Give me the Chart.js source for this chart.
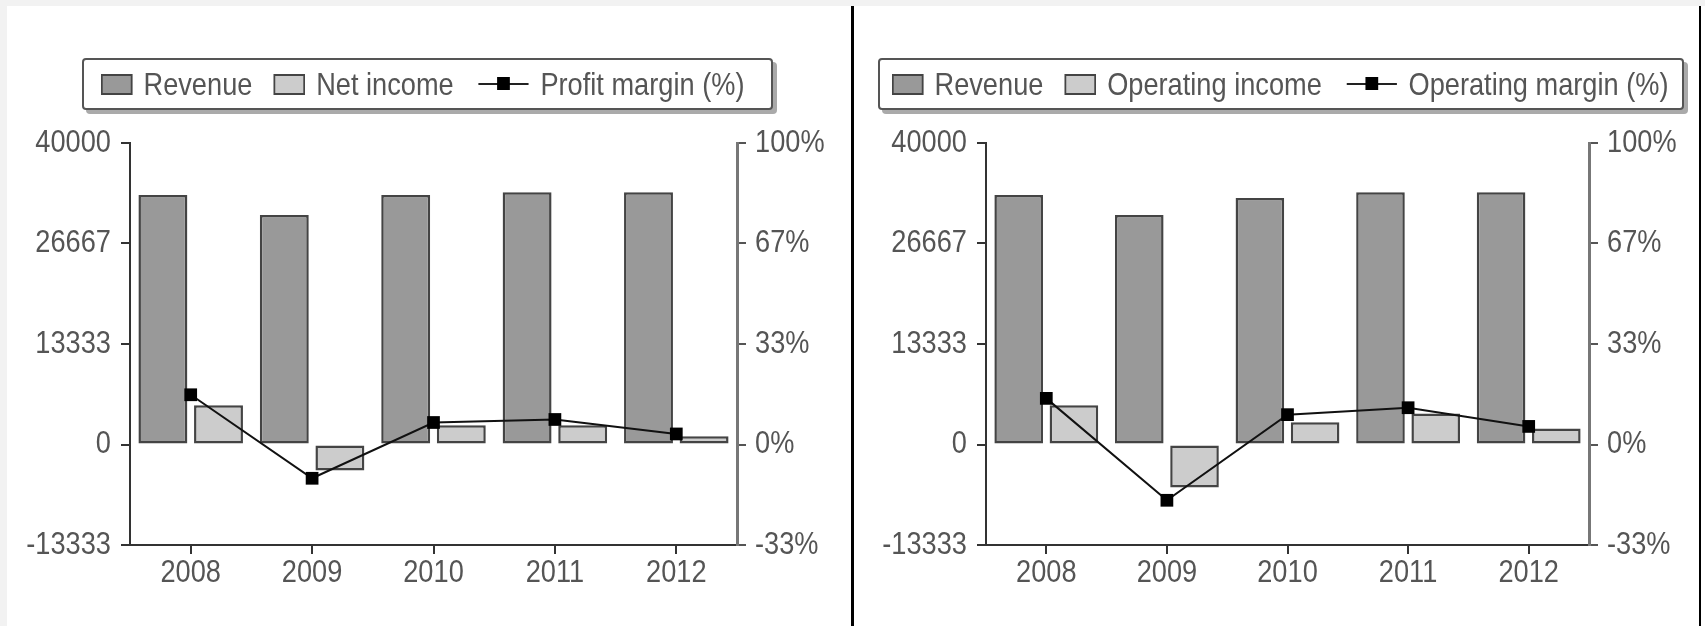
<!DOCTYPE html>
<html>
<head>
<meta charset="utf-8">
<script src="https://cdn.jsdelivr.net/npm/chart.js@4.4.1/dist/chart.umd.min.js"></script>
<style>
    html, body { margin: 0; padding: 0; }
    body { width: 1705px; height: 626px; background: #f2f2f2; position: relative; overflow: hidden;
           font-family: 'Liberation Sans', Arial, sans-serif; }
    #panel { position: absolute; left: 7px; top: 6px; width: 1698px; height: 620px; background: #fff; }
    .divider { position: absolute; top: 6px; height: 620px; background: #000; }
    canvas { position: absolute; top: 6px; }
    .legend { position: absolute; top: 58px; height: 48px; border: 2px solid #555; border-radius: 4px;
              background: #fff; box-shadow: 4px 4px 0 #aaa; color: #555; font-size: 32px;
              box-sizing: content-box; white-space: nowrap; overflow: hidden; }
    .legend .inner { position: absolute; top: 0; height: 48px; display: flex; align-items: center;
                     transform: scaleX(0.85); transform-origin: 0 50%; }
    .legend .item { display: flex; align-items: center; margin-right: 25px; }
    .legend .swatch { width: 33px; height: 17px; border: 2px solid #444; margin-right: 13px; }
    .legend .line { position: relative; width: 59px; height: 2px; background: #222; margin-right: 14px; margin-left: 4px; }
    .legend .line::after { content: ''; position: absolute; left: 22px; top: -6px; width: 15px; height: 13px; background: #000; }
</style>
</head>
<body>
<div id="panel"></div>
<div class="divider" style="left:851px;width:3px;"></div>
<div class="divider" style="left:1699px;width:2px;"></div>

<canvas id="chartLeft" width="844" height="620" style="left:7px;"></canvas>
<canvas id="chartRight" width="845" height="620" style="left:854px;"></canvas>
<div id="legendLeft" class="legend" style="left:82px;width:687px;"></div>
<div id="legendRight" class="legend" style="left:878px;width:802px;"></div>

<script>
const years = ['2008', '2009', '2010', '2011', '2012'];

const revenueLeft = [33100, 30450, 33100, 33450, 33450];
const netIncome = [5200, -3450, 2550, 2550, 1080];
const profitMargin = [16.5, -11.2, 7.3, 8.3, 3.5];

const revenueRight = [33100, 30450, 32700, 33450, 33450];
const operatingIncome = [5200, -5700, 2950, 4110, 2120];
const operatingMargin = [15.3, -18.5, 9.9, 12.2, 6.0];

const amountTicks = [-13333.33, 0, 13333.33, 26666.67, 40000];
const amountTickLabels = ['-13333', '0', '13333', '26667', '40000'];
const percentTicks = [-33.33, 0, 33.33, 66.67, 100];
const percentTickLabels = ['-33%', '0%', '33%', '67%', '100%'];

const FONT = "'Liberation Sans', Arial, sans-serif";
const TEXT_SQUEEZE = 0.85; // the source uses a narrow face

function buildLegend(id, labels, padLeft) {
    const box = document.getElementById(id);
    box.innerHTML =
        '<div class="inner" style="left:' + padLeft + 'px">' +
        '<span class="item"><span class="swatch" style="background:#999"></span>' + labels[0] + '</span>' +
        '<span class="item"><span class="swatch" style="background:#ccc"></span>' + labels[1] + '</span>' +
        '<span class="item"><span class="line"></span>' + labels[2] + '</span>' +
        '</div>';
}

// condense canvas text horizontally around its anchor point
function squeezeText(canvas) {
    const c = canvas.getContext('2d');
    const fill = c.fillText.bind(c);
    c.fillText = function (text, x, y) {
        c.save();
        c.translate(x, y);
        c.scale(TEXT_SQUEEZE, 1);
        fill(text, 0, 0);
        c.restore();
    };
}

function renderCombo(canvasId, labels, revenue, income, margin, names, leftWidth, rightWidth) {
    const ctx = document.getElementById(canvasId);
    squeezeText(ctx);
    return new Chart(ctx, {
        data: {
            labels: labels,
            datasets: [
                {
                    type: 'line',
                    label: names[2],
                    data: margin,
                    yAxisID: 'yPct',
                    order: 0,
                    borderColor: '#111',
                    borderWidth: 2,
                    pointStyle: 'rect',
                    pointRadius: 9,
                    pointBackgroundColor: '#000',
                    pointBorderColor: '#000',
                    pointBorderWidth: 0,
                    tension: 0
                },
                {
                    type: 'bar',
                    label: names[0],
                    data: revenue,
                    yAxisID: 'yAmt',
                    order: 1,
                    backgroundColor: '#999999',
                    borderColor: '#444',
                    borderWidth: 2.5,
                    borderSkipped: false,
                    categoryPercentage: 0.916,
                    barPercentage: 0.88
                },
                {
                    type: 'bar',
                    label: names[1],
                    data: income,
                    yAxisID: 'yAmt',
                    order: 1,
                    backgroundColor: '#cccccc',
                    borderColor: '#444',
                    borderWidth: 2.5,
                    borderSkipped: false,
                    categoryPercentage: 0.916,
                    barPercentage: 0.88
                }
            ]
        },
        options: {
            responsive: false,
            devicePixelRatio: 1,
            animation: false,
            layout: { padding: { top: 137, left: 0, right: 0, bottom: 0 } },
            plugins: { legend: { display: false }, tooltip: { enabled: false } },
            scales: {
                x: {
                    type: 'category',
                    offset: true,
                    grid: { offset: false, drawOnChartArea: false, drawTicks: true, tickLength: 9, color: '#333', lineWidth: 2 },
                    border: { display: true, color: '#333', width: 2 },
                    ticks: { color: '#555', font: { family: FONT, size: 32 }, padding: 0, maxRotation: 0, autoSkip: false },
                    afterFit: s => { s.height = 81; }
                },
                yAmt: {
                    type: 'linear',
                    position: 'left',
                    min: amountTicks[0],
                    max: amountTicks[amountTicks.length - 1],
                    afterBuildTicks: s => { s.ticks = amountTicks.map(v => ({ value: v })); },
                    grid: { drawOnChartArea: false, drawTicks: true, tickLength: 9, color: '#333', lineWidth: 2 },
                    border: { display: true, color: '#333', width: 2 },
                    ticks: {
                        color: '#555', font: { family: FONT, size: 32 }, padding: 10,
                        callback: (v, i) => amountTickLabels[i]
                    },
                    afterFit: s => { s.width = leftWidth; }
                },
                yPct: {
                    type: 'linear',
                    position: 'right',
                    min: percentTicks[0],
                    max: percentTicks[percentTicks.length - 1],
                    afterBuildTicks: s => { s.ticks = percentTicks.map(v => ({ value: v })); },
                    grid: { drawOnChartArea: false, drawTicks: true, tickLength: 9, color: '#555', lineWidth: 2 },
                    border: { display: true, color: '#777', width: 3 },
                    ticks: {
                        color: '#555', font: { family: FONT, size: 32 }, padding: 9,
                        callback: (v, i) => percentTickLabels[i]
                    },
                    afterFit: s => { s.width = rightWidth; }
                }
            }
        }
    });
}

buildLegend('legendLeft', ['Revenue', 'Net income', 'Profit margin (%)'], 17);
buildLegend('legendRight', ['Revenue', 'Operating income', 'Operating margin (%)'], 12);

renderCombo('chartLeft', years, revenueLeft, netIncome, profitMargin,
    ['Revenue', 'Net income', 'Profit margin (%)'], 123, 114);
renderCombo('chartRight', years, revenueRight, operatingIncome, operatingMargin,
    ['Revenue', 'Operating income', 'Operating margin (%)'], 132, 110);
</script>
</body>
</html>
